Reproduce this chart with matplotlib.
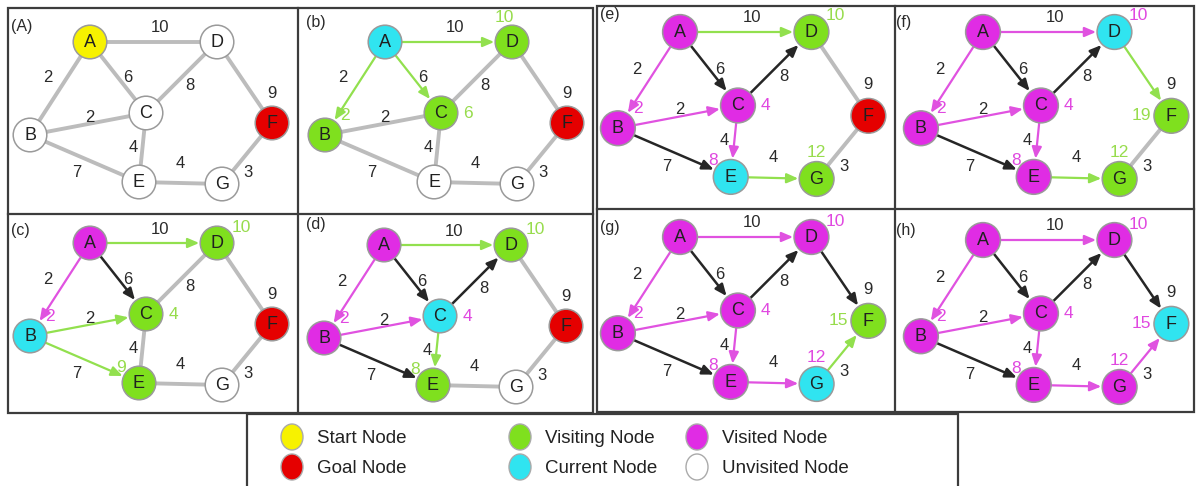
import matplotlib
matplotlib.use("Agg")
import matplotlib.pyplot as plt
from matplotlib.patches import Circle, Ellipse, Rectangle, FancyArrowPatch
import numpy as np

plt.rcParams["font.family"] = ["Liberation Sans", "DejaVu Sans"]

# === DATA ===
node_names = ["A", "B", "C", "D", "E", "F", "G"]

# directed edges (from, to) and weights
edge_from = ["A", "A", "A", "B", "B", "C", "C", "D", "E", "G"]
edge_to = ["B", "C", "D", "C", "E", "D", "E", "F", "G", "F"]
edge_weight = [2, 6, 10, 2, 7, 8, 4, 9, 4, 3]

panel_labels = ["(A)", "(b)", "(c)", "(d)", "(e)", "(f)", "(g)", "(h)"]

# node state per panel, order A..G
# s=start, g=goal, v=visiting, c=current, x=visited, u=unvisited
node_states = [
    "suuuugu",
    "cvvvugu",
    "xcvvvgu",
    "xxcvvgu",
    "xxxvcgv",
    "xxxcxvv",
    "xxxxxvc",
    "xxxxxcx",
]

# edge state per panel, same order as edge lists
# -=untouched (grey), v=green, x=magenta, k=black
edge_states = [
    "----------",
    "vvv-------",
    "xkvvv-----",
    "xkvxkkv---",
    "xkvxkkx-v-",
    "xkxxkkxvv-",
    "xkxxkkxkxv",
    "xkxxkkxkxx",
]

# tentative / final distance labels per panel: (node, value, state)
dist_labels = [
    [],
    [("B", 2, "v"), ("C", 6, "v"), ("D", 10, "v")],
    [("B", 2, "x"), ("C", 4, "v"), ("D", 10, "v"), ("E", 9, "v")],
    [("B", 2, "x"), ("C", 4, "x"), ("D", 10, "v"), ("E", 8, "v")],
    [("B", 2, "x"), ("C", 4, "x"), ("D", 10, "v"), ("E", 8, "x"), ("G", 12, "v")],
    [("B", 2, "x"), ("C", 4, "x"), ("D", 10, "x"), ("E", 8, "x"), ("G", 12, "v"), ("F", 19, "v")],
    [("B", 2, "x"), ("C", 4, "x"), ("D", 10, "x"), ("E", 8, "x"), ("G", 12, "x"), ("F", 15, "v")],
    [("B", 2, "x"), ("C", 4, "x"), ("D", 10, "x"), ("E", 8, "x"), ("G", 12, "x"), ("F", 15, "x")],
]

legend_names = ["Start Node", "Goal Node", "Visiting Node", "Current Node", "Visited Node", "Unvisited Node"]
legend_states = ["s", "g", "v", "c", "x", "u"]

# === LAYOUT / STYLE ===
node_fill = {"s": "#f7f200", "g": "#e50000", "v": "#7fe01e", "c": "#30e4f0",
             "x": "#e02ce4", "u": "#ffffff"}
edge_col = {"-": "#bcbcbc", "v": "#92e04e", "x": "#e052e0", "k": "#262626"}
label_col = {"v": "#97dc4c", "x": "#e048e0"}

# node offsets (pixels) relative to node A
node_off = {"A": (0, 0), "B": (-60, 93), "C": (56, 71), "D": (127, 0),
            "E": (49, 140), "F": (182, 81), "G": (132, 142)}
# weight label offsets relative to node A, same order as edges
weight_off = [(-42, 36), (38, 36), (70, -14), (0, 75), (-13, 130),
              (100, 43), (43, 105), (182, 51), (90, 121), (158, 130)]
# distance label offsets relative to its node
dist_off = {"B": (20, -20), "C": (27, 0), "D": (24, -16), "E": (-18, -16),
            "G": (0, -26), "F": (-30, 0)}

# position of node A in each panel, and a scale for the right-hand group
anchors = [(90, 42), (385, 42), (90, 243), (384, 245),
           (680, 32), (983, 32), (680, 237), (983, 240)]
scales = [1.0, 1.0, 1.0, 1.0, 1.035, 1.035, 1.035, 1.035]
label_pos = [(11, 26), (306, 22), (11, 230), (306, 224),
             (600, 15), (896, 22), (600, 227), (896, 230)]
R = 16.8

fig = plt.figure(figsize=(11.97, 4.86), dpi=100)
ax = fig.add_axes([0, 0, 1, 1])
ax.set_xlim(0, 1197)
ax.set_ylim(486, 0)
ax.axis("off")

# panel frames
frame_kw = dict(fill=False, ec="#3c3c3c", lw=1.6, zorder=10)
ax.add_patch(Rectangle((8, 8), 585, 405, **frame_kw))
ax.plot([298, 298], [8, 413], color="#3c3c3c", lw=1.6, zorder=10)
ax.plot([8, 593], [214, 214], color="#3c3c3c", lw=1.6, zorder=10)
ax.add_patch(Rectangle((597, 6), 597, 406, **frame_kw))
ax.plot([895, 895], [6, 412], color="#3c3c3c", lw=1.6, zorder=10)
ax.plot([597, 1194], [209, 209], color="#3c3c3c", lw=1.6, zorder=10)

for p in range(len(panel_labels)):
    ox, oy = anchors[p]
    s = scales[p]
    r = R * s
    pos = {n: (ox + s * node_off[n][0], oy + s * node_off[n][1]) for n in node_names}

    # edges
    for i in range(len(edge_from)):
        st = edge_states[p][i]
        x0, y0 = pos[edge_from[i]]
        x1, y1 = pos[edge_to[i]]
        if st == "-":
            ax.plot([x0, x1], [y0, y1], color=edge_col[st], lw=2.8,
                    solid_capstyle="butt", zorder=1)
        else:
            d = np.hypot(x1 - x0, y1 - y0)
            ux, uy = (x1 - x0) / d, (y1 - y0) / d
            start = (x0 + ux * r, y0 + uy * r)
            end = (x1 - ux * (r + 1), y1 - uy * (r + 1))
            lw = 1.8 if st == "k" else 1.6
            ax.add_patch(FancyArrowPatch(start, end,
                                         arrowstyle="-|>,head_length=0.75,head_width=0.32",
                                         mutation_scale=9, color=edge_col[st], lw=lw,
                                         shrinkA=0, shrinkB=0, zorder=2))
        wx, wy = weight_off[i]
        ax.text(ox + s * wx, oy + s * wy, str(edge_weight[i]), fontsize=12,
                color="#2a2a2a", ha="center", va="center", zorder=4)

    # nodes
    for j, n in enumerate(node_names):
        st = node_states[p][j]
        ax.add_patch(Circle(pos[n], r, fc=node_fill[st], ec="#9a9a9a", lw=1.1, zorder=3))
        ax.text(pos[n][0], pos[n][1] + 0.5, n, fontsize=13, color="#202020",
                ha="center", va="center", zorder=5)

    # distance labels
    for n, val, st in dist_labels[p]:
        dx, dy = dist_off[n]
        if p == 1 and n == "D":
            dx, dy = (-8, -24)
        ax.text(pos[n][0] + dx, pos[n][1] + dy, str(val), fontsize=12.5,
                color=label_col[st], ha="center", va="center", zorder=6)

    ax.text(label_pos[p][0], label_pos[p][1], panel_labels[p], fontsize=11.5,
            color="#2a2a2a", ha="left", va="center", zorder=6)

# legend box
ax.add_patch(Rectangle((247, 414), 711, 80, fill=False, ec="#3c3c3c", lw=1.6, zorder=10))
leg_x = [292, 292, 520, 520, 697, 697]
leg_y = [437, 467, 437, 467, 437, 467]
for k in range(len(legend_names)):
    ax.add_patch(Ellipse((leg_x[k], leg_y[k]), 22, 26, fc=node_fill[legend_states[k]],
                         ec="#aaaaaa", lw=1.0, zorder=3))
    ax.text(leg_x[k] + 25, leg_y[k] + 1, legend_names[k], fontsize=13.5,
            color="#222222", ha="left", va="center")

fig.savefig("out.png", dpi=100)
